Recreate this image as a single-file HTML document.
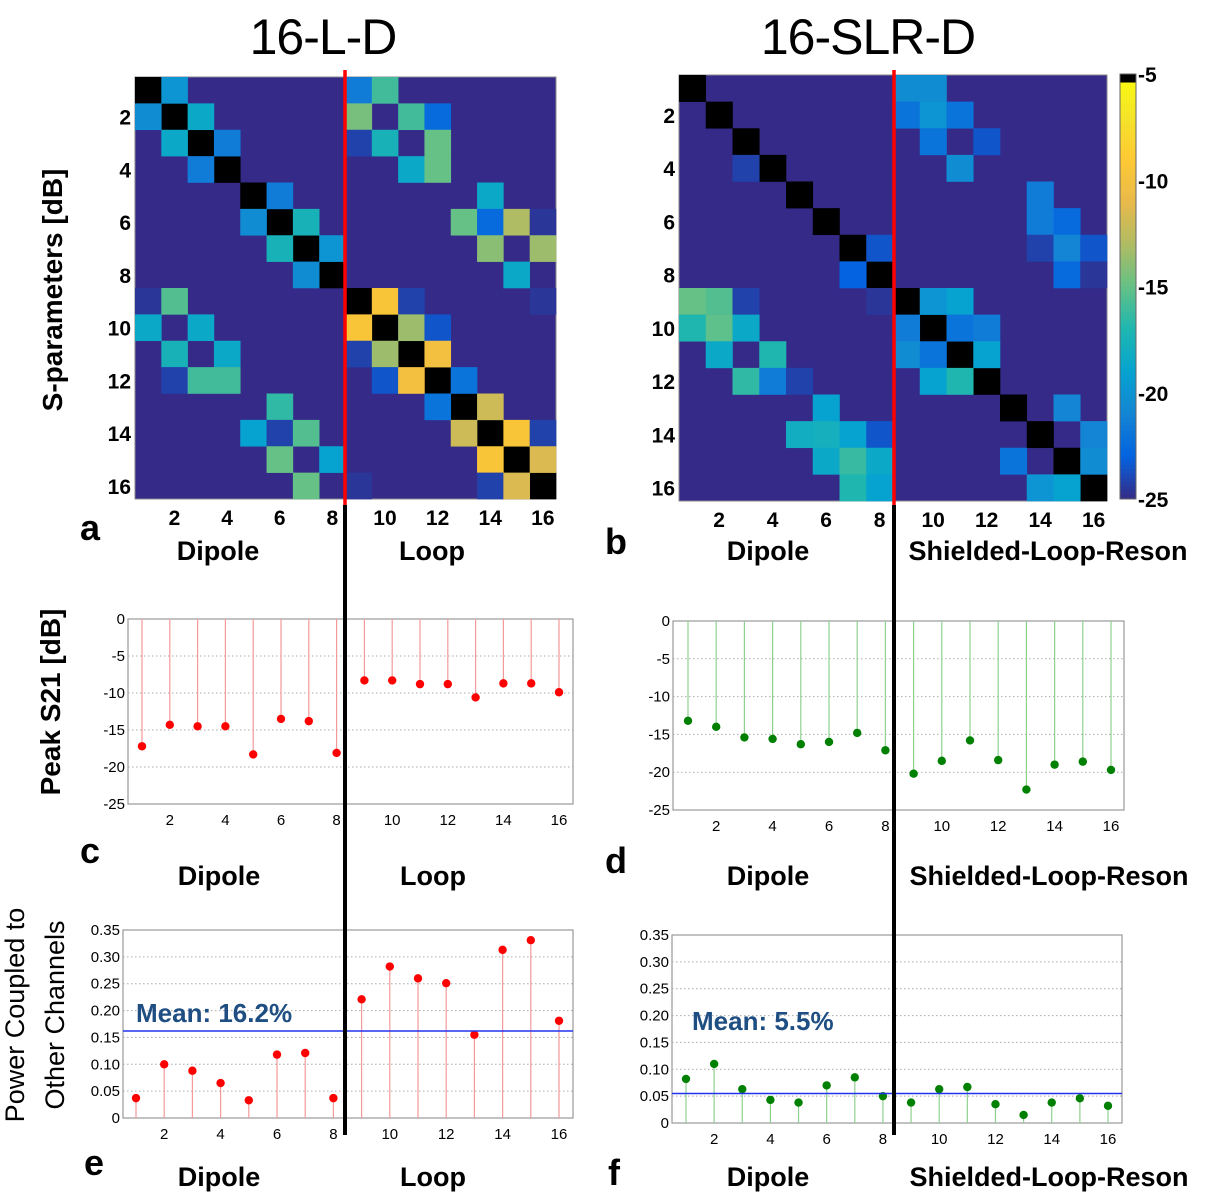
<!DOCTYPE html>
<html><head><meta charset="utf-8"><style>
html,body{margin:0;padding:0;background:#fff;}
svg{display:block;font-family:"Liberation Sans",sans-serif;}
</style></head><body>
<svg id="fig" width="1212" height="1204" viewBox="0 0 1212 1204">
<text x="323" y="54" font-size="50" text-anchor="middle" letter-spacing="-1">16-L-D</text>
<text x="868" y="54" font-size="50" text-anchor="middle" letter-spacing="-1">16-SLR-D</text>
<text x="62" y="290" font-size="28" font-weight="bold" text-anchor="middle" transform="rotate(-90 62 290)">S-parameters [dB]</text>
<text x="60" y="702" font-size="28" font-weight="bold" text-anchor="middle" transform="rotate(-90 60 702)">Peak S21 [dB]</text>
<text x="24" y="1015" font-size="27" text-anchor="middle" transform="rotate(-90 24 1015)">Power Coupled to</text>
<text x="64" y="1015" font-size="27" text-anchor="middle" transform="rotate(-90 64 1015)">Other Channels</text>
<g id="labels" font-weight="bold" font-size="27"></g>
<g id="plots"></g>
</svg>
<script>
// ---- data ----
const heatCats = [1,2,3,4,5,6,7,8,9,10,11,12,13,14,15,16];
const heatTicks = [2,4,6,8,10,12,14,16];
const colorbarTicks = [-5,-10,-15,-20,-25];
// off-diagonal coupling values in dB (row, col, value); diagonal = self (black); rest = -25
const heatA = [
[1,2,-20],[1,9,-21.5],[1,10,-16],
[2,1,-20.5],[2,3,-18.5],[2,9,-14.5],[2,11,-16],[2,12,-22.5],
[3,2,-18.5],[3,4,-21.5],[3,9,-24.2],[3,10,-17.5],[3,12,-15],
[4,3,-21.5],[4,11,-18.5],[4,12,-15],
[5,6,-21.5],[5,14,-18.5],
[6,5,-20.5],[6,7,-17.5],[6,13,-15],[6,14,-22.5],[6,15,-13],[6,16,-24.6],
[7,6,-17.5],[7,8,-20],[7,14,-14],[7,16,-13.5],
[8,7,-20.5],[8,15,-18.5],
[9,1,-24.6],[9,2,-15.5],[9,10,-9.5],[9,11,-24.2],[9,16,-24.6],
[10,1,-18.5],[10,3,-18.5],[10,9,-9.5],[10,11,-13.5],[10,12,-23.5],
[11,2,-17.5],[11,4,-18.5],[11,9,-24.2],[11,10,-13.5],[11,12,-10],
[12,2,-24.2],[12,3,-16],[12,4,-16],[12,10,-23.5],[12,11,-10],[12,13,-22],
[13,6,-16.5],[13,12,-22],[13,14,-12],
[14,5,-19],[14,6,-24.2],[14,7,-15.5],[14,13,-12],[14,15,-9.5],[14,16,-24.2],
[15,6,-15],[15,8,-19],[15,14,-9.5],[15,16,-11.5],
[16,7,-15],[16,9,-24.6],[16,14,-24.2],[16,15,-11.5]
];
const heatB = [
[1,9,-20.5],[1,10,-20.5],
[2,9,-22],[2,10,-20],[2,11,-22],
[3,10,-22],[3,12,-23.5],
[4,3,-24.2],[4,11,-20.5],
[5,14,-21.5],
[6,14,-21.5],[6,15,-22.5],
[7,8,-23.5],[7,14,-24.2],[7,15,-21],[7,16,-23.5],
[8,7,-23],[8,15,-22.5],[8,16,-24.6],
[9,1,-15],[9,2,-15.5],[9,3,-24.2],[9,8,-24.6],[9,10,-20],[9,11,-19],
[10,1,-17],[10,2,-15.2],[10,3,-18.5],[10,9,-21.5],[10,11,-22],[10,12,-21.5],
[11,2,-18.5],[11,4,-17],[11,9,-20.5],[11,10,-22],[11,12,-19],
[12,3,-16.5],[12,4,-21.5],[12,5,-24.2],[12,10,-19],[12,11,-17],
[13,6,-19],[13,15,-21],
[14,5,-18],[14,6,-17.8],[14,7,-19],[14,8,-23.5],[14,16,-21],
[15,6,-18.5],[15,7,-16.3],[15,8,-18.5],[15,13,-22],[15,16,-20.5],
[16,7,-17],[16,8,-19],[16,14,-20],[16,15,-19]
];
const channels = [1,2,3,4,5,6,7,8,9,10,11,12,13,14,15,16];
const stemTicksX = [2,4,6,8,10,12,14,16];
const s21Ticks = [0,-5,-10,-15,-20,-25];
const s21LD = [-17.2,-14.3,-14.5,-14.5,-18.3,-13.5,-13.8,-18.1,-8.3,-8.3,-8.8,-8.8,-10.6,-8.7,-8.7,-9.9];
const s21SLR = [-13.2,-14.0,-15.4,-15.6,-16.3,-16.0,-14.8,-17.1,-20.2,-18.5,-15.8,-18.4,-22.3,-19.0,-18.6,-19.7];
const powTicks = [0,0.05,0.10,0.15,0.20,0.25,0.30,0.35];
const powLD = [0.037,0.100,0.088,0.065,0.033,0.118,0.121,0.037,0.221,0.282,0.260,0.251,0.155,0.313,0.331,0.181];
const powSLR = [0.082,0.110,0.063,0.043,0.038,0.070,0.085,0.050,0.038,0.063,0.067,0.035,0.015,0.038,0.046,0.032];
const meanLD = [0.162];
const meanSLR = [0.055];

// ---- helpers ----
const NS='http://www.w3.org/2000/svg';
const plots=document.getElementById('plots');
function mk(tag,attrs,parent){const e=document.createElementNS(NS,tag);for(const k in attrs)e.setAttribute(k,attrs[k]);(parent||plots).appendChild(e);return e;}
const parula=[[0.208,0.166,0.529],[0.012,0.388,0.882],[0.078,0.52,0.83],[0.024,0.639,0.816],[0.12,0.715,0.69],[0.396,0.755,0.523],[0.69,0.738,0.389],[0.913,0.728,0.292],[0.995,0.789,0.202],[0.957,0.895,0.16],[0.976,0.983,0.054]];
function cmap(v){if(v>-5.2)return '#000';let t=(v+25)/20;t=Math.max(0,Math.min(1,t));const p=t*10,i=Math.min(9,Math.floor(p)),f=p-i;const a=parula[i],b=parula[i+1];return 'rgb('+a.map((c,j)=>Math.round(255*(c+(b[j]-c)*f))).join(',')+')';}

function heatmap(name,cells,x0,y0,w,h){
  const g=mk('g',{});
  
  
  const n=heatCats.length,cw=w/n,ch=h/n;
  const sx=c=>x0+(c-1)*cw, sy=r=>y0+(r-1)*ch;
  const bg=mk('rect',{x:x0,y:y0,width:w,height:h,fill:cmap(-25),stroke:'#888','stroke-width':1},g);
  
  
  heatCats.forEach(i=>{
    const d=mk('rect',{x:sx(i),y:sy(i),width:cw+0.3,height:ch+0.3,fill:'#000'},g);
    
    
  });
  cells.forEach(c=>{
    const r=mk('rect',{x:sx(c[1]),y:sy(c[0]),width:cw+0.3,height:ch+0.3,fill:cmap(c[2])},g);
    
    
  });
  heatTicks.forEach(t=>{
    const tx=mk('text',{x:sx(t)+cw/2,y:y0+h+26,'font-size':21,'font-weight':'bold','text-anchor':'middle'},g);
    tx.textContent=t;
    
    
    const ty=mk('text',{x:x0-4,y:sy(t)+ch/2+8,'font-size':21,'font-weight':'bold','text-anchor':'end'},g);
    ty.textContent=t;
    
    
  });
}
heatmap('heatmap-16-l-d',heatA,135,77,421,422);
heatmap('heatmap-16-slr-d',heatB,679,75,428,426);

// colorbar
(function(){
  const x=1120,y0=74,y1=499,g=mk('g',{});
  
  
  const vy=v=>y0+(-5-v)/20*(y1-y0);
  for(let k=0;k<100;k++){const v=-5-k*0.2;mk('rect',{x:x,y:vy(v),width:16,height:(y1-y0)/100+0.5,fill:k<2?'#000':cmap(v-0.1)},g);}
  mk('rect',{x:x,y:y0,width:16,height:y1-y0,fill:'none',stroke:'#666'},g);
  colorbarTicks.forEach(t=>{
    const tx=mk('text',{x:x+18,y:vy(t)+8,'font-size':21,'font-weight':'bold'},g);
    tx.textContent=t;
    
    
  });
})();

function stem(name,vals,ticks,ymin,ymax,ax,color,mean,fmt){
  const g=mk('g',{});
  
  
  const sx=c=>ax.x1+(c-1)*(ax.x16-ax.x1)/15;
  const sy=v=>ax.yb+(v-ymin)/(ymax-ymin)*(ax.yt-ax.yb);
  mk('rect',{x:ax.l,y:ax.yt,width:ax.r-ax.l,height:ax.yb-ax.yt,fill:'#fff',stroke:'#999','stroke-width':1.2},g);
  ticks.forEach(t=>{
    if(t!==ymin&&t!==ymax) mk('line',{x1:ax.l,x2:ax.r,y1:sy(t),y2:sy(t),stroke:'#aaa','stroke-dasharray':'1.5,2.5'},g);
    const tl=mk('text',{x:ax.l-3,y:sy(t)+5,'font-size':15,'text-anchor':'end'},g);
    tl.textContent=fmt(t);
    
    
  });
  stemTicksX.forEach(t=>{
    const tl=mk('text',{x:sx(t),y:ax.yb+21,'font-size':15,'text-anchor':'middle'},g);
    tl.textContent=t;
    
    
  });
  const base=0;
  vals.forEach((v,i)=>{
    const c=channels[i];
    mk('line',{x1:sx(c),x2:sx(c),y1:sy(base),y2:sy(v),stroke:color.stem,'stroke-width':1.2},g);
    const p=mk('circle',{cx:sx(c),cy:sy(v),r:4.2,fill:color.dot},g);
    
    
  });
  if(mean){
    const m=mk('line',{x1:ax.l,x2:ax.r,y1:sy(mean[0]),y2:sy(mean[0]),stroke:'#2233ee','stroke-width':1.5},g);
    
    
    const mt=mk('text',{x:ax.mx,y:ax.my,'font-size':26,'font-weight':'bold',fill:'#1f4e82'},g);
    mt.textContent='Mean: '+(mean[0]*100).toFixed(1)+'%';
    
    
  }
}
const red={stem:'#f59a9a',dot:'#f00'}, green={stem:'#8fd08f',dot:'#008000'};
stem('peak-s21-16-l-d',s21LD,s21Ticks,-25,0,{l:128,r:573,yt:619,yb:804,x1:142,x16:559},red,null,t=>t);
stem('peak-s21-16-slr-d',s21SLR,s21Ticks,-25,0,{l:673,r:1124,yt:621,yb:810,x1:688,x16:1111},green,null,t=>t);
stem('power-16-l-d',powLD,powTicks,0,0.35,{l:123,r:573,yt:930,yb:1118,x1:136,x16:559,mx:136,my:1022},red,meanLD,t=>t===0?'0':t.toFixed(2));
stem('power-16-slr-d',powSLR,powTicks,0,0.35,{l:672,r:1122,yt:935,yb:1123,x1:686,x16:1108,mx:692,my:1030},green,meanSLR,t=>t===0?'0':t.toFixed(2));

// divider lines
[[345,70,505,'#f00'],[894,70,505,'#f00'],[345,505,1135,'#000'],[894,505,1135,'#000']].forEach(d=>{
  const l=mk('line',{x1:d[0],x2:d[0],y1:d[1],y2:d[2],stroke:d[3],'stroke-width':d[3]==='#000'?4:3.5});
  
  
});

// group labels
const lab=document.getElementById('labels');
const labels=[['a',90,540,36],['b',616,554,36],['c',90,863,36],['d',616,873,36],['e',94,1175,36],['f',614,1185,36],
['Dipole',218,560,27],['Loop',432,560,27],['Dipole',768,560,27],['Shielded-Loop-Reson',1048,560,27],
['Dipole',219,885,27],['Loop',433,885,27],['Dipole',768,885,27],['Shielded-Loop-Reson',1049,885,27],
['Dipole',219,1186,27],['Loop',433,1186,27],['Dipole',768,1186,27],['Shielded-Loop-Reson',1049,1186,27]];
labels.forEach(l=>{
  const t=mk('text',{x:l[1],y:l[2],'text-anchor':'middle','font-size':l[3]},lab);
  t.textContent=l[0];
  
  
});
</script>
</body></html>
